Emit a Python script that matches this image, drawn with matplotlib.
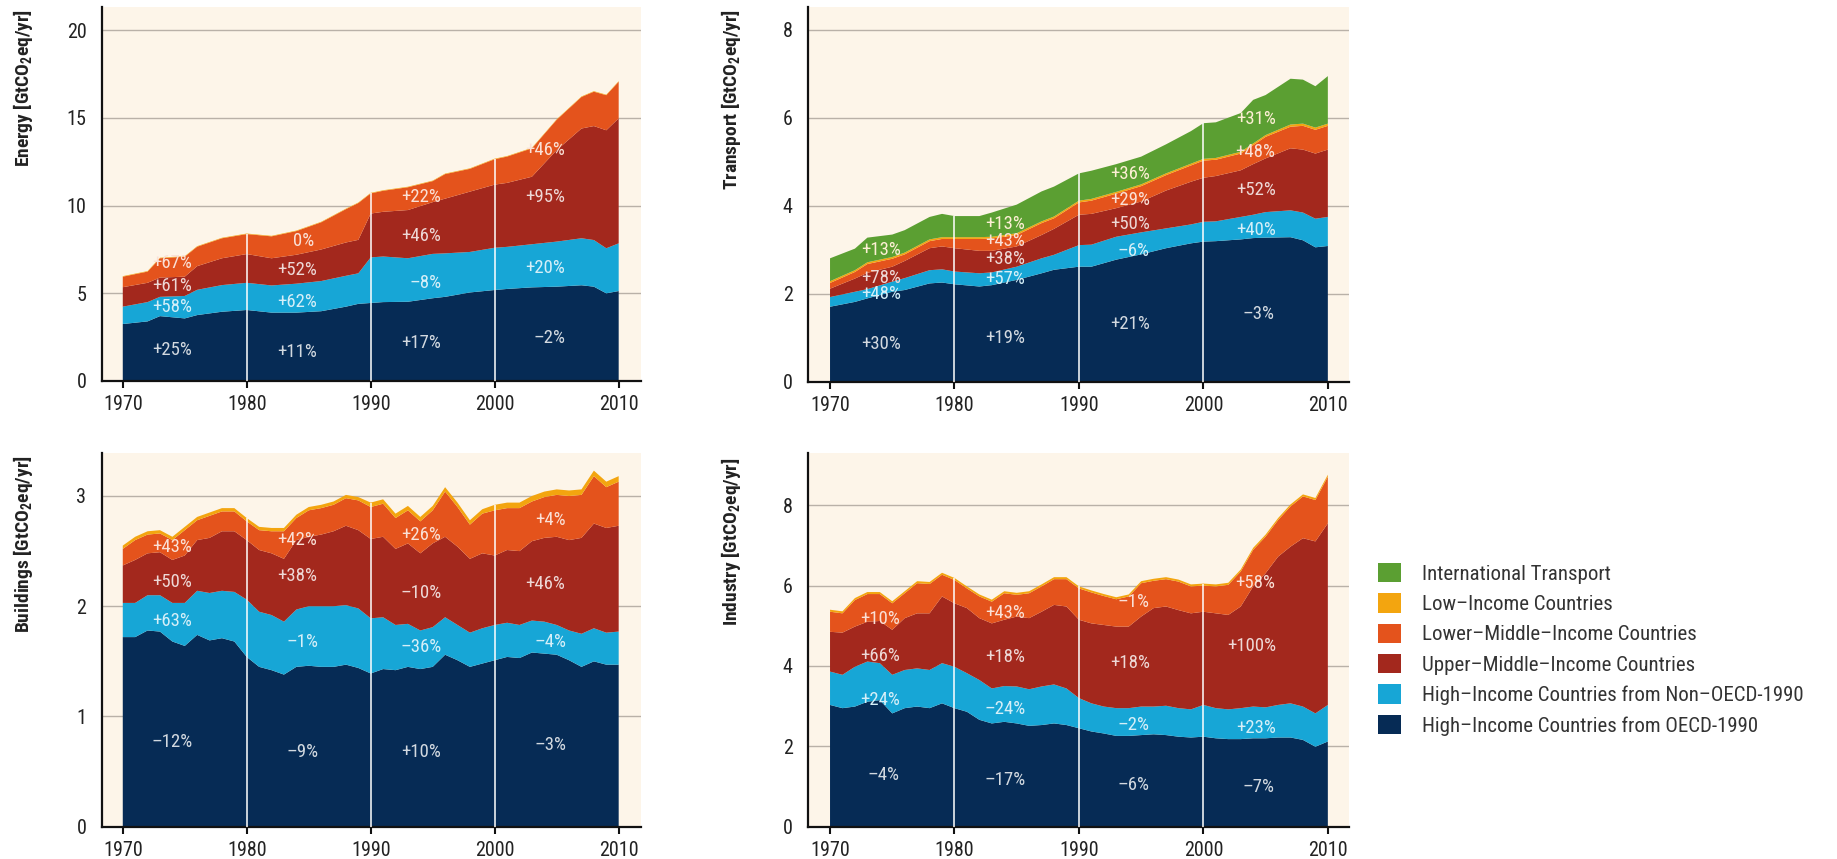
import numpy as np
import matplotlib.pyplot as plt
from matplotlib.colors import to_rgb
from matplotlib.patches import Patch

plt.rcParams['font.family'] = ['Roboto Condensed', 'DejaVu Sans']
plt.rcParams['mathtext.fontset'] = 'custom'

# ---------------------------------------------------------------- data
groups = [
    'High\u2013Income Countries from OECD-1990',
    'High\u2013Income Countries from Non\u2013OECD-1990',
    'Upper\u2013Middle\u2013Income Countries',
    'Lower\u2013Middle\u2013Income Countries',
    'Low\u2013Income Countries',
    'International Transport',
]
colors = ['#062b55', '#17a6d6', '#a3281d', '#e4531c', '#f3a50f', '#5b9f32']

# Energy [GtCO2eq/yr]
energy_years = [1970, 1972, 1973, 1975, 1976, 1978, 1980, 1982, 1984, 1986,
                1988, 1989, 1990, 1991, 1993, 1995, 1996, 1998, 2000, 2001,
                2003, 2005, 2007, 2008, 2009, 2010]
energy_oecd = [3.25, 3.40, 3.70, 3.57, 3.76, 3.95, 4.05, 3.90, 3.90, 3.98,
               4.24, 4.40, 4.45, 4.50, 4.52, 4.72, 4.80, 5.05, 5.19, 5.25,
               5.34, 5.38, 5.46, 5.38, 5.00, 5.13]
energy_non_oecd = [0.99, 1.10, 1.10, 1.28, 1.44, 1.52, 1.55, 1.55, 1.65, 1.72,
                   1.76, 1.74, 2.60, 2.60, 2.48, 2.53, 2.48, 2.31, 2.41, 2.40,
                   2.46, 2.57, 2.68, 2.66, 2.57, 2.72]
energy_upper = [1.11, 1.10, 1.10, 1.10, 1.35, 1.53, 1.64, 1.55, 1.65, 1.80,
                1.90, 1.91, 2.50, 2.55, 2.75, 2.95, 3.12, 3.44, 3.60, 3.65,
                3.85, 5.22, 6.26, 6.50, 6.73, 7.13]
energy_lower = [0.60, 0.64, 1.10, 1.14, 1.11, 1.14, 1.14, 1.25, 1.35, 1.55,
                1.90, 2.10, 1.15, 1.20, 1.30, 1.20, 1.40, 1.30, 1.45, 1.50,
                1.62, 1.73, 1.80, 1.96, 2.00, 2.09]
energy_low = [0.03, 0.03, 0.03, 0.03, 0.03, 0.03, 0.03, 0.03, 0.03, 0.03,
              0.03, 0.03, 0.03, 0.03, 0.03, 0.03, 0.03, 0.03, 0.03, 0.03,
              0.03, 0.03, 0.03, 0.03, 0.03, 0.03]

# Transport [GtCO2eq/yr]
transport_years = [1970, 1972, 1973, 1975, 1976, 1978, 1979, 1980, 1982, 1983,
                   1985, 1987, 1988, 1990, 1991, 1993, 1995, 1997, 1999, 2000,
                   2001, 2003, 2004, 2005, 2007, 2008, 2009, 2010]
transport_oecd = [1.71, 1.82, 1.90, 2.05, 2.09, 2.24, 2.26, 2.22, 2.17, 2.20,
                  2.32, 2.47, 2.55, 2.62, 2.62, 2.78, 2.90, 3.04, 3.15, 3.19,
                  3.20, 3.24, 3.27, 3.28, 3.29, 3.22, 3.06, 3.09]
transport_non_oecd = [0.22, 0.23, 0.21, 0.23, 0.27, 0.30, 0.30, 0.29, 0.30, 0.29,
                      0.30, 0.34, 0.34, 0.49, 0.50, 0.52, 0.50, 0.45, 0.43, 0.45,
                      0.45, 0.51, 0.53, 0.58, 0.61, 0.63, 0.65, 0.66]
transport_upper = [0.19, 0.30, 0.37, 0.34, 0.39, 0.50, 0.52, 0.53, 0.51, 0.49,
                   0.46, 0.53, 0.59, 0.69, 0.70, 0.65, 0.70, 0.86, 0.97, 1.00,
                   1.03, 1.06, 1.15, 1.22, 1.41, 1.43, 1.48, 1.53]
transport_lower = [0.13, 0.15, 0.20, 0.18, 0.15, 0.16, 0.17, 0.21, 0.27, 0.28,
                   0.26, 0.27, 0.24, 0.28, 0.30, 0.33, 0.35, 0.35, 0.37, 0.39,
                   0.37, 0.38, 0.43, 0.49, 0.49, 0.54, 0.54, 0.54]
transport_low = [0.04, 0.04, 0.04, 0.04, 0.04, 0.04, 0.04, 0.04, 0.04, 0.04,
                 0.04, 0.04, 0.04, 0.04, 0.04, 0.04, 0.04, 0.04, 0.04, 0.04,
                 0.04, 0.04, 0.04, 0.04, 0.05, 0.05, 0.05, 0.05]
transport_intl = [0.52, 0.49, 0.56, 0.51, 0.51, 0.51, 0.53, 0.48, 0.48, 0.55,
                  0.65, 0.68, 0.68, 0.62, 0.64, 0.63, 0.63, 0.66, 0.74, 0.81,
                  0.81, 0.88, 0.99, 0.91, 1.04, 1.00, 0.94, 1.08]

# Buildings [GtCO2eq/yr]
buildings_years = list(range(1970, 2011))
buildings_oecd = [1.72, 1.72, 1.78, 1.77, 1.68, 1.64, 1.74, 1.69, 1.71, 1.68,
                  1.54, 1.45, 1.42, 1.38, 1.45, 1.46, 1.45, 1.45, 1.47, 1.44,
                  1.39, 1.43, 1.42, 1.45, 1.43, 1.45, 1.56, 1.51, 1.45, 1.48,
                  1.51, 1.54, 1.53, 1.58, 1.57, 1.56, 1.51, 1.45, 1.50, 1.47,
                  1.47]
buildings_non_oecd = [0.31, 0.31, 0.32, 0.33, 0.35, 0.39, 0.40, 0.43, 0.43, 0.45,
                      0.52, 0.50, 0.50, 0.48, 0.52, 0.54, 0.55, 0.55, 0.54, 0.54,
                      0.50, 0.47, 0.41, 0.39, 0.35, 0.36, 0.34, 0.32, 0.31, 0.32,
                      0.32, 0.31, 0.30, 0.29, 0.29, 0.27, 0.27, 0.30, 0.30, 0.29,
                      0.30]
buildings_upper = [0.34, 0.39, 0.38, 0.39, 0.39, 0.43, 0.46, 0.50, 0.54, 0.55,
                   0.54, 0.56, 0.56, 0.57, 0.63, 0.63, 0.65, 0.68, 0.72, 0.71,
                   0.72, 0.73, 0.69, 0.73, 0.70, 0.76, 0.73, 0.71, 0.67, 0.68,
                   0.63, 0.66, 0.67, 0.72, 0.76, 0.80, 0.82, 0.87, 0.95, 0.95,
                   0.96]
buildings_lower = [0.15, 0.18, 0.17, 0.17, 0.18, 0.23, 0.18, 0.20, 0.18, 0.18,
                   0.17, 0.18, 0.20, 0.25, 0.20, 0.24, 0.24, 0.24, 0.25, 0.27,
                   0.29, 0.30, 0.28, 0.30, 0.29, 0.30, 0.41, 0.36, 0.31, 0.36,
                   0.41, 0.38, 0.39, 0.36, 0.37, 0.38, 0.40, 0.39, 0.43, 0.37,
                   0.40]
buildings_low = [0.03, 0.03, 0.03, 0.03, 0.03, 0.03, 0.03, 0.03, 0.03, 0.03,
                 0.03, 0.03, 0.03, 0.03, 0.03, 0.03, 0.03, 0.03, 0.03, 0.03,
                 0.04, 0.04, 0.04, 0.04, 0.04, 0.04, 0.04, 0.04, 0.04, 0.04,
                 0.05, 0.05, 0.05, 0.05, 0.05, 0.05, 0.05, 0.05, 0.05, 0.05,
                 0.05]

# Industry [GtCO2eq/yr]
industry_years = list(range(1970, 2011))
industry_oecd = [3.03, 2.95, 2.99, 3.11, 3.15, 2.82, 2.95, 2.99, 2.95, 3.07,
                 2.95, 2.86, 2.66, 2.57, 2.61, 2.57, 2.51, 2.53, 2.57, 2.53,
                 2.45, 2.37, 2.32, 2.26, 2.26, 2.28, 2.30, 2.28, 2.24, 2.22,
                 2.24, 2.20, 2.18, 2.18, 2.20, 2.20, 2.22, 2.22, 2.16, 1.99,
                 2.12]
industry_non_oecd = [0.83, 0.83, 0.99, 1.00, 0.92, 0.96, 0.95, 0.95, 0.95, 1.00,
                     1.03, 0.96, 0.99, 0.87, 0.89, 0.92, 0.91, 0.96, 0.97, 0.91,
                     0.75, 0.70, 0.67, 0.69, 0.69, 0.71, 0.69, 0.73, 0.71, 0.70,
                     0.79, 0.75, 0.74, 0.77, 0.79, 0.77, 0.81, 0.85, 0.83, 0.83,
                     0.91]
industry_upper = [0.99, 1.05, 1.00, 0.99, 1.05, 1.12, 1.29, 1.37, 1.41, 1.66,
                  1.58, 1.62, 1.54, 1.62, 1.65, 1.74, 1.77, 1.86, 1.98, 2.04,
                  1.95, 1.99, 2.03, 2.03, 2.03, 2.24, 2.45, 2.47, 2.44, 2.39,
                  2.32, 2.36, 2.35, 2.53, 2.99, 3.34, 3.69, 3.90, 4.19, 4.28,
                  4.52]
industry_lower = [0.50, 0.48, 0.66, 0.69, 0.67, 0.66, 0.62, 0.75, 0.73, 0.54,
                  0.58, 0.49, 0.54, 0.54, 0.66, 0.54, 0.62, 0.63, 0.64, 0.68,
                  0.78, 0.77, 0.72, 0.68, 0.75, 0.83, 0.68, 0.68, 0.71, 0.67,
                  0.65, 0.67, 0.75, 0.87, 0.91, 0.91, 0.91, 1.00, 1.04, 1.03,
                  1.16]
industry_low = [0.05, 0.05, 0.05, 0.05, 0.05, 0.05, 0.05, 0.05, 0.05, 0.05,
                0.05, 0.05, 0.05, 0.05, 0.05, 0.05, 0.05, 0.05, 0.05, 0.05,
                0.05, 0.05, 0.05, 0.05, 0.05, 0.05, 0.05, 0.05, 0.05, 0.05,
                0.05, 0.05, 0.05, 0.05, 0.05, 0.05, 0.05, 0.05, 0.05, 0.05,
                0.05]

# decadal change of each group, 1970s..2000s
energy_change = [['+25%', '+11%', '+17%', '\u20132%'],
                 ['+58%', '+62%', '\u20138%', '+20%'],
                 ['+61%', '+52%', '+46%', '+95%'],
                 ['+67%', '0%', '+22%', '+46%']]
transport_change = [['+30%', '+19%', '+21%', '\u20133%'],
                    ['+48%', '+57%', '\u20136%', '+40%'],
                    ['+78%', '+38%', '+50%', '+52%'],
                    [None, '+43%', '+29%', '+48%'],
                    ['+13%', '+13%', '+36%', '+31%']]
buildings_change = [['\u201312%', '\u20139%', '+10%', '\u20133%'],
                    ['+63%', '\u20131%', '\u201336%', '\u20134%'],
                    ['+50%', '+38%', '\u201310%', '+46%'],
                    ['+43%', '+42%', '+26%', '+4%']]
industry_change = [['\u20134%', '\u201317%', '\u20136%', '\u20137%'],
                   ['+24%', '\u201324%', '\u20132%', '+23%'],
                   ['+66%', '+18%', '+18%', '+100%'],
                   ['+10%', '+43%', '\u20131%', '+58%']]

# ---------------------------------------------------------------- layout
FIG_W, FIG_H = 1837, 859
fig = plt.figure(figsize=(FIG_W / 100, FIG_H / 100), dpi=100)
CREAM = '#fdf5e9'


def px_axes(left, top, right, bottom):
    return fig.add_axes([left / FIG_W, 1 - bottom / FIG_H,
                         (right - left) / FIG_W, (bottom - top) / FIG_H])


def draw_panel(ax, years, layers, layer_colors, change, label_pos,
               ylim, yticks, xlim):
    ax.set_facecolor(CREAM)
    for yt in yticks[1:]:
        ax.axhline(yt, color='#b9b1a8', lw=1.0, zorder=0)
    ax.stackplot(years, *layers, colors=layer_colors, lw=0, zorder=2)

    totals = np.sum(np.array(layers), axis=0)
    for yr in (1980, 1990, 2000):
        top = totals[years.index(yr)]
        ax.vlines(yr, 0, top, color='white', lw=1.3, alpha=0.85, zorder=3)

    # percentage labels, tinted towards the band colour
    for i, row in enumerate(change):
        tint = 0.18 * np.array(to_rgb(layer_colors[i])) + 0.82
        for j, txt in enumerate(row):
            if txt is None:
                continue
            x, y = label_pos[i][j]
            ax.text(x, y, txt, color=tint, fontsize=13.5, ha='center',
                    va='center', zorder=4)

    ax.set_xlim(*xlim)
    ax.set_ylim(*ylim)
    ax.set_xticks([1970, 1980, 1990, 2000, 2010])
    ax.set_yticks(yticks)
    ax.tick_params(axis='x', length=5, width=1.5, pad=5, labelsize=14.5,
                   color='#111111', labelcolor='#222222')
    ax.tick_params(axis='y', length=0, pad=11, labelsize=14.5,
                   labelcolor='#222222')
    for side in ('top', 'right'):
        ax.spines[side].set_visible(False)
    for side in ('left', 'bottom'):
        ax.spines[side].set_linewidth(1.6)
        ax.spines[side].set_color('#111111')


ax_energy = px_axes(101.7, 7, 641, 381)
ax_transport = px_axes(808, 7, 1349, 382)
ax_buildings = px_axes(101.7, 453, 641, 826.7)
ax_industry = px_axes(808, 453, 1349, 826.7)

draw_panel(ax_energy, energy_years,
           [energy_oecd, energy_non_oecd, energy_upper, energy_lower, energy_low],
           colors[:5], energy_change,
           [[(1974.0, 1.77), (1984.1, 1.67), (1994.1, 2.15), (2004.4, 2.43)],
            [(1974.0, 4.24), (1984.1, 4.52), (1994.4, 5.60), (2004.1, 6.43)],
            [(1974.0, 5.42), (1984.1, 6.33), (1994.1, 8.27), (2004.1, 10.48)],
            [(1974.0, 6.71), (1984.6, 8.00), (1994.1, 10.48), (2004.1, 13.17)]],
           (0, 21.33), [0, 5, 10, 15, 20], (1968.3, 2011.8))

draw_panel(ax_transport, transport_years,
           [transport_oecd, transport_non_oecd, transport_upper,
            transport_lower, transport_low, transport_intl],
           colors, transport_change,
           [[(1974.1, 0.86), (1984.1, 1.01), (1994.1, 1.32), (2004.4, 1.54)],
            [(1974.1, 2.00), (1984.1, 2.34), (1994.4, 2.97), (2004.2, 3.46)],
            [(1974.1, 2.37), (1984.1, 2.80), (1994.1, 3.58), (2004.2, 4.37)],
            [None, (1984.1, 3.20), (1994.1, 4.14), (2004.2, 5.23)],
            [(1974.1, 2.99), (1984.1, 3.60), (1994.1, 4.72), (2004.2, 5.98)]],
           (0, 8.52), [0, 2, 4, 6, 8], (1968.23, 2011.7))

draw_panel(ax_buildings, buildings_years,
           [buildings_oecd, buildings_non_oecd, buildings_upper,
            buildings_lower, buildings_low],
           colors[:5], buildings_change,
           [[(1974.0, 0.77), (1984.5, 0.68), (1994.1, 0.68), (2004.5, 0.74)],
            [(1974.0, 1.87), (1984.5, 1.68), (1994.1, 1.63), (2004.5, 1.68)],
            [(1974.0, 2.22), (1984.1, 2.27), (1994.1, 2.12), (2004.1, 2.20)],
            [(1974.0, 2.54), (1984.1, 2.60), (1994.1, 2.65), (2004.5, 2.78)]],
           (0, 3.39), [0, 1, 2, 3], (1968.3, 2011.8))

draw_panel(ax_industry, industry_years,
           [industry_oecd, industry_non_oecd, industry_upper,
            industry_lower, industry_low],
           colors[:5], industry_change,
           [[(1974.3, 1.29), (1984.1, 1.16), (1994.4, 1.04), (2004.4, 0.98)],
            [(1974.0, 3.15), (1984.1, 2.92), (1994.4, 2.53), (2004.2, 2.45)],
            [(1974.0, 4.25), (1984.1, 4.22), (1994.1, 4.08), (2003.9, 4.50)],
            [(1974.0, 5.16), (1984.1, 5.33), (1994.4, 5.58), (2004.2, 6.06)]],
           (0, 9.30), [0, 2, 4, 6, 8], (1968.23, 2011.7))

# y-axis titles, top aligned with each panel
for x, y, sector in [(22.7, 9, 'Energy'), (731, 9, 'Transport'),
                     (22.7, 455, 'Buildings'), (731, 458, 'Industry')]:
    fig.text(x / FIG_W, 1 - y / FIG_H,
             sector + r' [GtCO$_\mathregular{2}$eq/yr]',
             rotation=90, ha='center', va='top', fontsize=14,
             fontweight='bold', color='#222222')

handles = [Patch(facecolor=c, edgecolor='none') for c in colors[::-1]]
fig.legend(handles, groups[::-1], loc='upper left',
           bbox_to_anchor=(1378 / FIG_W, 1 - 563 / FIG_H),
           frameon=False, fontsize=15, handlelength=1.1, handleheight=1.05,
           handletextpad=1.0, labelspacing=0.46, borderpad=0,
           borderaxespad=0, labelcolor='#333333')

fig.savefig('out.png', dpi=100)
